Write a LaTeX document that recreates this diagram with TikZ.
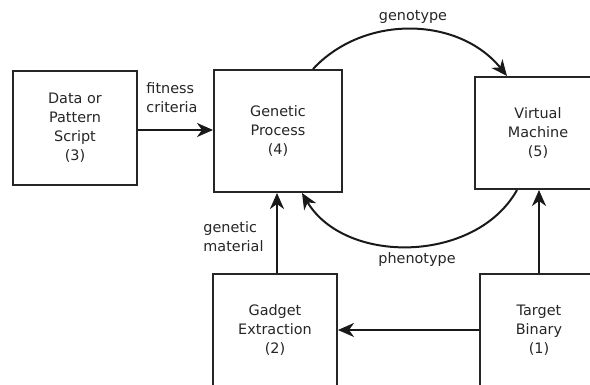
\documentclass[tikz,border=0pt]{standalone}
\usepackage{fontspec}
\setmainfont{DejaVu Sans}
\usetikzlibrary{arrows.meta}
\begin{document}
\begin{tikzpicture}[x=1pt,y=1pt,
  box/.style={draw=black!85, line width=2pt, rectangle, align=center,
    font=\fontsize{14.4pt}{19pt}\selectfont, inner sep=0pt, text=black!85},
  lbl/.style={font=\fontsize{14.4pt}{19pt}\selectfont, inner sep=0pt, text=black!85},
  conn/.style={draw=black!90, line width=2pt, -{Stealth[length=16pt,width=14pt,inset=5pt]}}]
\useasboundingbox (0,0) rectangle (590,385);
\clip (0,0) rectangle (590,385);
\fill[white] (0,0) rectangle (590,385);
\node[box, minimum width=124pt, minimum height=114pt] (b3) at (75,257) {Data or\\Pattern\\Script\\(3)};
\node[box, minimum width=128pt, minimum height=122pt] (b4) at (278,254) {Genetic\\Process\\(4)};
\node[box, minimum width=126pt, minimum height=112pt] (b5) at (538,252) {Virtual\\Machine\\(5)};
\node[box, minimum width=124pt, minimum height=112pt] (b2) at (275,55) {Gadget\\Extraction\\(2)};
\node[box, minimum width=118pt, minimum height=112pt] (b1) at (539,55) {Target\\Binary\\(1)};
\draw[conn] (b3.east |- 0,255) -- (b4.west |- 0,255);
\draw[conn] ([xshift=35pt]b4.north) to[bend left=49] ([xshift=-31pt]b5.north);
\draw[conn] ([xshift=-21pt]b5.south) to[bend left=60] ([xshift=24pt]b4.south);
\draw[conn] (b2.north -| 277,0) -- (b4.south -| 277,0);
\draw[conn] (b1.west) -- (b2.east);
\draw[conn] (b1.north -| 539,0) -- (b5.south -| 539,0);
\node[lbl, align=left] (lfit) at (172,287) {fitness\\criteria};
\node[lbl] (lgeno) at (413,368) {genotype};
\node[lbl] (lpheno) at (417,125) {phenotype};
\node[lbl, align=left] (lgen) at (233.5,148.5) {genetic\\material};
\end{tikzpicture}
\end{document}
